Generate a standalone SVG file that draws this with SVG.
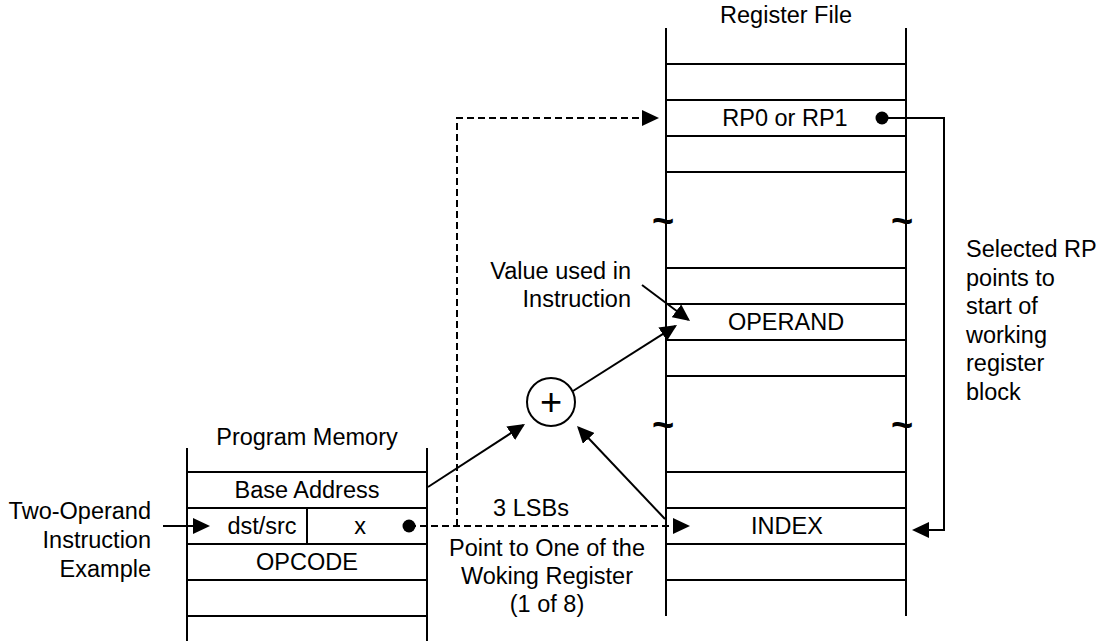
<svg xmlns="http://www.w3.org/2000/svg" width="1097" height="641" viewBox="0 0 1097 641">
<style>
text{font-family:"Liberation Sans",Arial,sans-serif;font-size:23.5px;fill:#000}
.c{text-anchor:middle}
.r{text-anchor:end}
.ln{stroke:#000;stroke-width:2;fill:none}
.dash{stroke:#000;stroke-width:2;fill:none;stroke-dasharray:7 4}
.arr{marker-end:url(#ah)}
.tl{font-size:38px;font-weight:bold;text-anchor:middle}
</style>
<defs>
<marker id="ah" viewBox="0 0 17 16" refX="15" refY="8" markerWidth="17" markerHeight="16" markerUnits="userSpaceOnUse" orient="auto">
<path d="M0,0 L17,8 L0,16 z" fill="#000"/>
</marker>
</defs>
<rect width="1097" height="641" fill="#fff"/>

<g id="register-file">
<text class="c" x="786" y="23">Register File</text>
<path class="ln" d="M666,28 V616 M906,28 V616"/>
<path class="ln" d="M666,64 H906 M666,100 H906 M666,136 H906 M666,172 H906 M666,268 H906 M666,304 H906 M666,340 H906 M666,376 H906 M666,472 H906 M666,508 H906 M666,544 H906 M666,580 H906"/>
<text class="tl" x="663" y="234">~</text>
<text class="tl" x="902" y="234">~</text>
<text class="tl" x="663" y="438">~</text>
<text class="tl" x="902" y="438">~</text>
</g>
<g id="rp-reg">
<text class="c" x="785" y="126">RP0 or RP1</text>
<circle cx="882" cy="118" r="6.5" fill="#000"/>
</g>
<g id="operand-reg">
<text class="c" x="786" y="330">OPERAND</text>
</g>
<g id="index-reg">
<text class="c" x="787" y="534">INDEX</text>
</g>

<g id="program-memory">
<text class="c" x="307" y="445">Program Memory</text>
<path class="ln" d="M187,448 V641 M427,448 V641"/>
<path class="ln" d="M187,472 H427 M187,508 H427 M187,544 H427 M187,580 H427 M187,616 H427 M307,508 V544"/>
<text class="c" x="307" y="498">Base Address</text>
<text class="c" x="262" y="534">dst/src</text>
<text class="c" x="360" y="534">x</text>
<circle cx="409" cy="526" r="6.5" fill="#000"/>
<text class="c" x="307" y="570">OPCODE</text>
</g>

<g id="adder">
<circle cx="551" cy="402" r="24" fill="#fff" stroke="#000" stroke-width="2"/>
<text class="c" x="551" y="415" style="font-size:38px">+</text>
</g>

<g id="labels">
<text class="r" x="151" y="519">Two-Operand</text>
<text class="r" x="151" y="548">Instruction</text>
<text class="r" x="151" y="577">Example</text>
<text class="r" x="631" y="279">Value used in</text>
<text class="r" x="631" y="307">Instruction</text>
<text class="c" x="531" y="516">3 LSBs</text>
<text class="c" x="547" y="556">Point to One of the</text>
<text class="c" x="547" y="584">Woking Register</text>
<text class="c" x="547" y="612">(1 of 8)</text>
<text x="966" y="257">Selected RP</text>
<text x="966" y="285.6">points to</text>
<text x="966" y="314.2">start of</text>
<text x="966" y="342.8">working</text>
<text x="966" y="371.4">register</text>
<text x="966" y="400">block</text>
</g>

<g id="connectors">
<path class="ln arr" d="M163,526 H208"/>
<path class="dash arr" d="M409,526 H688"/>
<path class="dash arr" d="M457,526 V118 H657"/>
<path class="ln arr" d="M882,118 H944 V530 H914"/>
<path class="ln arr" d="M428,487 L523.3,425.1"/>
<path class="ln arr" d="M665,519 L578.4,427.5"/>
<path class="ln arr" d="M573,391 L675.3,326.1"/>
<path class="ln arr" d="M642,285 L688.4,319.8"/>
</g>
</svg>
